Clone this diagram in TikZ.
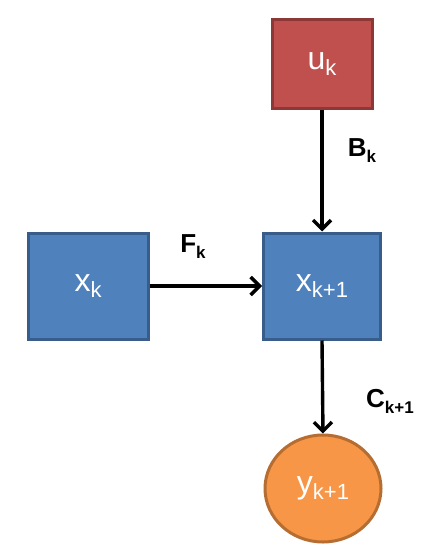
\documentclass[tikz,border=0pt]{standalone}
\usepackage{fontspec}
\setmainfont{Liberation Sans}
\usetikzlibrary{arrows.meta,shapes.geometric}
\definecolor{redfill}{HTML}{C0504D}
\definecolor{reddraw}{HTML}{8C3836}
\definecolor{bluefill}{HTML}{4F81BD}
\definecolor{bluedraw}{HTML}{385D8A}
\definecolor{orangefill}{HTML}{F79646}
\definecolor{orangedraw}{HTML}{B66D31}
\newcommand{\nodetext}[2]{\fontsize{32}{34}\selectfont #1\raisebox{-6pt}{\fontsize{22}{22}\selectfont #2}}
\newcommand{\labtext}[2]{\fontsize{26}{28}\selectfont\bfseries #1\raisebox{-6pt}{\fontsize{17}{17}\selectfont #2}}
\tikzset{
  box/.style={rectangle, line width=3pt, minimum width=#1, minimum height=89pt, inner sep=0pt, text=white},
  redbox/.style={box=100pt, fill=redfill, draw=reddraw},
  bluebox/.style={box=120pt, minimum height=106pt, fill=bluefill, draw=bluedraw},
  outcircle/.style={ellipse, line width=3pt, fill=orangefill, draw=orangedraw, minimum width=116pt, minimum height=107pt, inner sep=0pt, text=white},
  conn/.style={line width=3.4pt, -{Straight Barb[length=9pt,width=18pt,line width=3.4pt]}},
  lab/.style={inner sep=0pt, text=black}
}
\begin{document}
\begin{tikzpicture}[x=1pt,y=-1pt]
\useasboundingbox (0,0) rectangle (439,559);
\node[redbox] (u) at (322,64.5) {\nodetext{u}{k}};
\node[bluebox] (xk) at (88,286) {\nodetext{x}{k}};
\node[bluebox, minimum width=117pt] (xk1) at (322,286) {\nodetext{x}{k+1}};
\node[outcircle] (y) at (323,488.5) {\nodetext{y}{k+1}};
\draw[conn] (u.south) -- (xk1.north);
\draw[conn] (xk.east) -- (xk1.west);
\draw[conn] (xk1.south) -- (y.north);
\node[lab] (F) at (193,247) {\labtext{F}{k}};
\node[lab] (B) at (362,151) {\labtext{B}{k}};
\node[lab] (C) at (390,401) {\labtext{C}{k+1}};
\end{tikzpicture}
\end{document}
